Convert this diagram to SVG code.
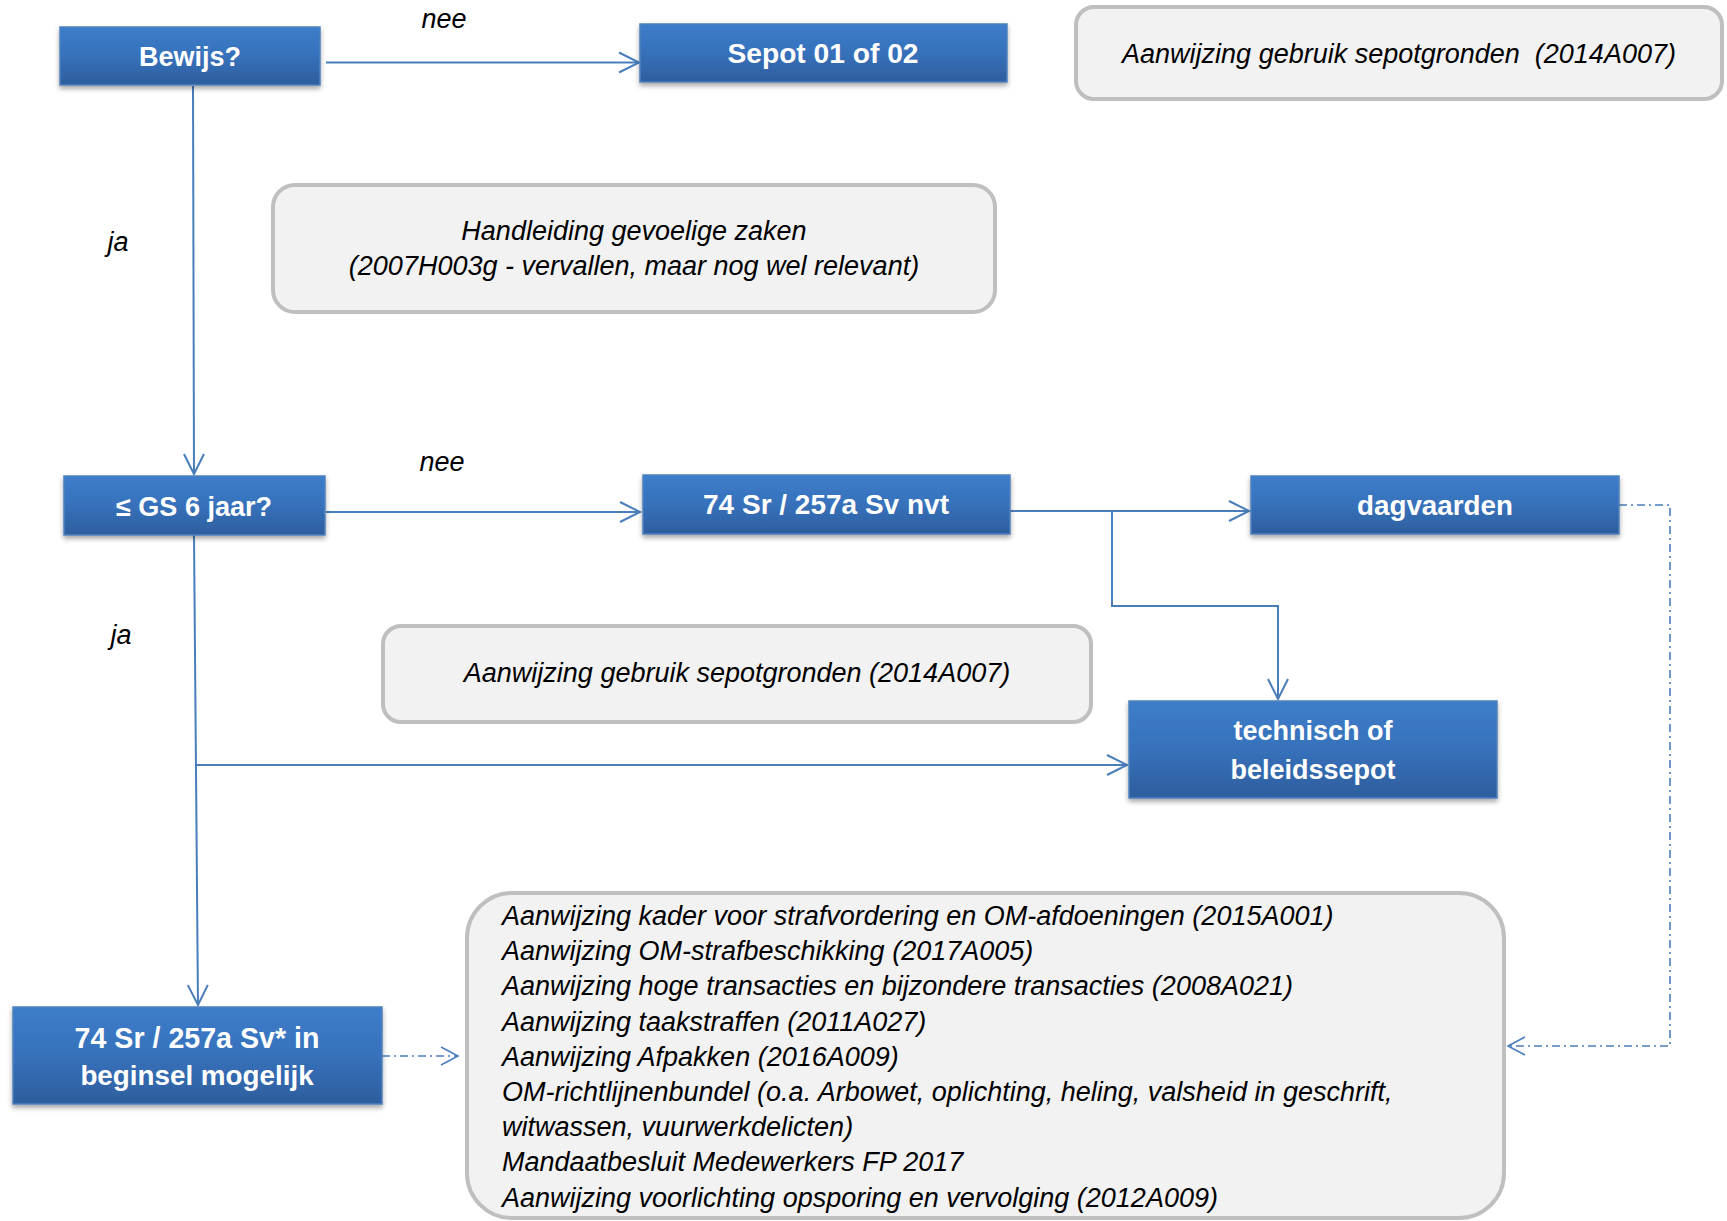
<svg xmlns="http://www.w3.org/2000/svg" width="1727" height="1221" viewBox="0 0 1727 1221">
<defs>
<linearGradient id="blueGrad" x1="0" y1="0" x2="0" y2="1">
<stop offset="0" stop-color="#3d7dca"/>
<stop offset="0.5" stop-color="#3771bb"/>
<stop offset="1" stop-color="#2d5e9d"/>
</linearGradient>
<filter id="shadow" x="-10%" y="-20%" width="120%" height="150%">
<feDropShadow dx="0" dy="3" stdDeviation="2.5" flood-color="#000" flood-opacity="0.35"/>
</filter>
<marker id="arrow" markerUnits="userSpaceOnUse" markerWidth="26" markerHeight="26" refX="20" refY="10" orient="auto" viewBox="-2 -2 26 26">
<path d="M0,0 L20,10 L0,20" fill="none" stroke="#4a7ebb" stroke-width="2"/>
</marker>
<marker id="arrowSmall" markerUnits="userSpaceOnUse" markerWidth="24" markerHeight="24" refX="17" refY="9" orient="auto" viewBox="-2 -2 24 24">
<path d="M0,0 L17,9 L0,18" fill="none" stroke="#4a7ebb" stroke-width="1.6"/>
</marker>
</defs>
<style>
.blue{fill:url(#blueGrad);stroke:#4f81bd;stroke-width:1.5;filter:url(#shadow)}
.grey{fill:#f2f2f2;stroke:#bfbfbf;stroke-width:4}
.bt{font-family:"Liberation Sans",Arial,sans-serif;font-weight:bold;font-size:27px;fill:#ffffff;text-anchor:middle}
.gt{font-family:"Liberation Sans",Arial,sans-serif;font-style:italic;font-size:27px;fill:#000000}
.mid{text-anchor:middle}
.lbl{font-family:"Liberation Sans",Arial,sans-serif;font-style:italic;font-size:27px;fill:#000000;text-anchor:middle}
.conn{fill:none;stroke:#4a7ebb;stroke-width:2}
.dash{fill:none;stroke:#4a7ebb;stroke-width:1.6;stroke-dasharray:8 4 2 4}
</style>

<g id="connectors">
<path class="conn" d="M326,62.5 H639" marker-end="url(#arrow)"/>
<path class="conn" d="M193,86 L194,474" marker-end="url(#arrow)"/>
<path class="conn" d="M326,512 H640" marker-end="url(#arrow)"/>
<path class="conn" d="M1010,511 H1249" marker-end="url(#arrow)"/>
<path class="conn" d="M1112,511 V606 H1278 V699" marker-end="url(#arrow)"/>
<path class="conn" d="M194,535 L198,1005" marker-end="url(#arrow)"/>
<path class="conn" d="M196,765 H1127" marker-end="url(#arrow)"/>
<path class="dash" d="M1619,505 H1670 V1046 H1508" marker-end="url(#arrowSmall)"/>
<path class="dash" d="M382,1056 H458" marker-end="url(#arrowSmall)"/>
</g>

<g id="labels">
<text class="lbl" x="444" y="28">nee</text>
<text class="lbl" x="442" y="471">nee</text>
<text class="lbl" x="118" y="251">ja</text>
<text class="lbl" x="121" y="644">ja</text>
</g>

<g id="node-bewijs">
<rect class="blue" x="60" y="27" width="260" height="58"/>
<text class="bt" x="190" y="66">Bewijs?</text>
</g>

<g id="node-sepot">
<rect class="blue" x="640" y="24" width="367" height="58"/>
<text class="bt" x="823" y="63" style="font-size:28.2px">Sepot 01 of 02</text>
</g>

<g id="node-note-top">
<rect class="grey" x="1076" y="7" width="646" height="92" rx="18"/>
<text class="gt mid" x="1399" y="63">Aanwijzing gebruik sepotgronden&#160; (2014A007)</text>
</g>

<g id="node-handleiding">
<rect class="grey" x="273" y="185" width="722" height="127" rx="22"/>
<text class="gt mid" x="634" y="240">Handleiding gevoelige zaken</text>
<text class="gt mid" x="634" y="275">(2007H003g - vervallen, maar nog wel relevant)</text>
</g>

<g id="node-gs">
<rect class="blue" x="64" y="476" width="261" height="59"/>
<text class="bt" x="194" y="516">≤ GS 6 jaar?</text>
</g>

<g id="node-nvt">
<rect class="blue" x="643" y="475" width="367" height="59"/>
<text class="bt" x="826" y="514" style="font-size:28px">74 Sr / 257a Sv nvt</text>
</g>

<g id="node-dagvaarden">
<rect class="blue" x="1251" y="476" width="368" height="58"/>
<text class="bt" x="1435" y="515" style="font-size:27.8px">dagvaarden</text>
</g>

<g id="node-note-mid">
<rect class="grey" x="383" y="626" width="708" height="96" rx="18"/>
<text class="gt mid" x="737" y="682">Aanwijzing gebruik sepotgronden (2014A007)</text>
</g>

<g id="node-technisch">
<rect class="blue" x="1129" y="701" width="368" height="97"/>
<text class="bt" x="1313" y="740">technisch of</text>
<text class="bt" x="1313" y="779">beleidssepot</text>
</g>

<g id="node-mogelijk">
<rect class="blue" x="13" y="1007" width="369" height="97"/>
<text class="bt" x="197" y="1048" style="font-size:28.6px">74 Sr / 257a Sv* in</text>
<text class="bt" x="197" y="1085" style="font-size:27.8px">beginsel mogelijk</text>
</g>

<g id="node-list">
<rect class="grey" x="467" y="893" width="1037" height="325" rx="45"/>
<text class="gt" x="502" y="925">Aanwijzing kader voor strafvordering en OM-afdoeningen (2015A001)</text>
<text class="gt" x="502" y="960.2">Aanwijzing OM-strafbeschikking (2017A005)</text>
<text class="gt" x="502" y="995.4">Aanwijzing hoge transacties en bijzondere transacties (2008A021)</text>
<text class="gt" x="502" y="1030.6">Aanwijzing taakstraffen (2011A027)</text>
<text class="gt" x="502" y="1065.8">Aanwijzing Afpakken (2016A009)</text>
<text class="gt" x="502" y="1101">OM-richtlijnenbundel (o.a. Arbowet, oplichting, heling, valsheid in geschrift,</text>
<text class="gt" x="502" y="1136.2">witwassen, vuurwerkdelicten)</text>
<text class="gt" x="502" y="1171.4">Mandaatbesluit Medewerkers FP 2017</text>
<text class="gt" x="502" y="1206.6">Aanwijzing voorlichting opsporing en vervolging (2012A009)</text>
</g>
</svg>
